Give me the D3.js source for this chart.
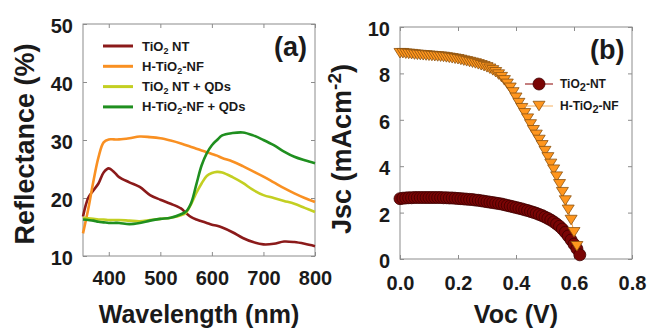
<!DOCTYPE html>
<html>
<head>
<meta charset="utf-8">
<script src="https://cdn.jsdelivr.net/npm/d3@7"></script>
<style>
  html, body { margin: 0; padding: 0; background: #fff; }
  svg { display: block; font-family: "Liberation Sans", Arial, sans-serif; }
</style>
</head>
<body>
<svg id="chart" width="647" height="330"></svg>
<script>
// ---------- Panel (a): reflectance spectra ----------
const wavelengths = [350, 360, 370, 380, 390, 400, 410, 420, 440, 460, 480, 500, 520, 540, 550, 560, 570, 580, 590, 600, 610, 620, 640, 660, 680, 700, 720, 740, 760, 780, 800];
const tio2NT = [16.8, 20.0, 21.3, 22.5, 24.4, 25.1, 24.5, 23.6, 22.7, 21.9, 20.5, 19.7, 19.0, 18.2, 17.4, 16.7, 16.3, 16.0, 15.7, 15.4, 15.2, 14.9, 14.1, 13.1, 12.4, 12.0, 12.1, 12.5, 12.4, 12.1, 11.7];
const hTio2NF = [13.9, 18.0, 22.8, 27.0, 29.6, 30.1, 30.1, 30.1, 30.3, 30.6, 30.5, 30.3, 29.9, 29.4, 29.1, 28.8, 28.5, 28.2, 27.9, 27.6, 27.3, 26.9, 26.3, 25.5, 24.6, 23.7, 22.7, 21.7, 20.8, 20.0, 19.3];
const tio2NTQD = [16.6, 16.5, 16.4, 16.3, 16.3, 16.2, 16.2, 16.2, 16.1, 16.0, 16.2, 16.4, 16.6, 17.0, 17.5, 19.0, 20.9, 22.5, 23.8, 24.3, 24.5, 24.4, 23.6, 22.6, 21.4, 20.5, 20.0, 19.5, 19.0, 18.3, 17.6];
const hTio2NFQD = [16.3, 16.2, 16.1, 15.9, 15.8, 15.7, 15.7, 15.7, 15.5, 15.7, 16.1, 16.4, 16.6, 17.2, 17.7, 19.2, 22.4, 25.6, 27.7, 29.1, 30.0, 30.8, 31.2, 31.3, 30.8, 30.0, 29.1, 28.0, 27.1, 26.5, 26.0];
const seriesNamesA = ["TiO2 NT", "H-TiO2-NF", "TiO2 NT + QDs", "H-TiO2-NF + QDs"];
const xTicksA = [400, 500, 600, 700, 800];
const yTicksA = [10, 20, 30, 40, 50];

// ---------- Panel (b): J-V curves ----------
const voltNT = [0.00,0.01,0.02,0.03,0.04,0.05,0.06,0.07,0.08,0.09,0.10,0.11,0.12,0.13,0.14,0.15,0.16,0.17,0.18,0.19,0.20,0.21,0.22,0.23,0.24,0.25,0.26,0.27,0.28,0.29,0.30,0.31,0.32,0.33,0.34,0.35,0.36,0.37,0.38,0.39,0.40,0.41,0.42,0.43,0.44,0.45,0.46,0.47,0.48,0.49,0.50,0.51,0.52,0.53,0.54,0.55,0.56,0.57,0.58,0.59,0.60,0.61,0.62];
const jscNT = [2.60,2.62,2.63,2.64,2.64,2.65,2.65,2.65,2.65,2.65,2.65,2.65,2.65,2.65,2.65,2.64,2.64,2.63,2.63,2.62,2.61,2.60,2.59,2.58,2.57,2.56,2.54,2.53,2.51,2.49,2.47,2.45,2.43,2.41,2.39,2.37,2.34,2.31,2.28,2.25,2.22,2.19,2.16,2.12,2.09,2.05,2.01,1.97,1.92,1.87,1.81,1.75,1.68,1.60,1.51,1.41,1.29,1.15,0.99,0.82,0.64,0.44,0.18];
const voltNF = [0.00,0.01,0.02,0.03,0.04,0.05,0.06,0.07,0.08,0.09,0.10,0.11,0.12,0.13,0.14,0.15,0.16,0.17,0.18,0.19,0.20,0.21,0.22,0.23,0.24,0.25,0.26,0.27,0.28,0.29,0.30,0.31,0.32,0.33,0.34,0.35,0.36,0.37,0.38,0.39,0.40,0.41,0.42,0.43,0.44,0.45,0.46,0.47,0.48,0.49,0.50,0.51,0.52,0.53,0.54,0.55,0.56,0.57,0.58,0.59,0.60,0.61];
const jscNF = [8.87,8.87,8.85,8.84,8.83,8.81,8.80,8.79,8.78,8.77,8.76,8.75,8.74,8.73,8.72,8.71,8.69,8.67,8.65,8.63,8.61,8.58,8.55,8.52,8.49,8.46,8.43,8.39,8.35,8.31,8.26,8.20,8.13,8.05,7.95,7.84,7.70,7.55,7.38,7.18,6.95,6.72,6.50,6.28,6.05,5.80,5.55,5.35,5.13,4.90,4.65,4.38,4.10,3.85,3.55,3.22,2.88,2.52,2.12,1.68,1.15,0.55];
const seriesNamesB = ["TiO2-NT", "H-TiO2-NF"];
const xTicksB = [0, 0.2, 0.4, 0.6, 0.8];
const yTicksB = [0, 2, 4, 6, 8, 10];

const svg = d3.select("#chart");
const FONT = "'Liberation Sans', Arial, sans-serif";
const BOX = "#8c8c8c";
const TXT = "#1a1a1a";

// helper: text with subscript "2"
function subText(sel, str, subSize, shift) {
  const parts = str.split("2");
  parts.forEach((p, i) => {
    if (i > 0) {
      sel.append("tspan").attr("font-size", subSize).attr("dy", shift).text("2");
      sel.append("tspan").attr("dy", -shift).text(p);
    } else {
      sel.append("tspan").text(p);
    }
  });
}

function frame(g, x, y, xTicks, yTicks, xFmt, xPad) {
  const [x0, x1] = x.range(), [y0, y1] = y.range();
  g.append("rect").attr("x", x0).attr("y", y1).attr("width", x1 - x0).attr("height", y0 - y1)
    .attr("fill", "none").attr("stroke", BOX).attr("stroke-width", 1);
  const ax = [
    g.append("g").attr("transform", `translate(0,${y0})`).call(d3.axisBottom(x).tickValues(xTicks).tickSizeInner(-4).tickSizeOuter(0).tickPadding(xPad).tickFormat(xFmt)),
    g.append("g").attr("transform", `translate(0,${y1})`).call(d3.axisTop(x).tickValues(xTicks).tickSizeInner(-4).tickSizeOuter(0).tickFormat("")),
    g.append("g").attr("transform", `translate(${x0},0)`).call(d3.axisLeft(y).tickValues(yTicks).tickSizeInner(-4).tickSizeOuter(0).tickPadding(10)),
    g.append("g").attr("transform", `translate(${x1},0)`).call(d3.axisRight(y).tickValues(yTicks).tickSizeInner(-4).tickSizeOuter(0).tickFormat(""))
  ];
  ax.forEach(a => {
    a.select(".domain").remove();
    a.selectAll(".tick line").attr("stroke", BOX);
    a.selectAll("text").attr("font-size", 20).attr("font-weight", "bold").attr("font-family", FONT).attr("fill", TXT);
  });
  ax[2].selectAll("text").attr("dy", "0.42em");
}

// ===== Panel (a) =====
const xA = d3.scaleLinear().domain([350, 800]).range([83, 315]);
const yA = d3.scaleLinear().domain([10, 50]).range([256, 24]);
const gA = svg.append("g");
frame(gA, xA, yA, xTicksA, yTicksA, d3.format("d"), 15);

const colorsA = ["#8b1a1a", "#f99022", "#c3cf22", "#1f8f1f"];
const dataA = [tio2NT, hTio2NF, tio2NTQD, hTio2NFQD];
const lineA = d3.line().x((d, i) => xA(wavelengths[i])).y(d => yA(d)).curve(d3.curveCatmullRom.alpha(0.5));
[0, 1, 2, 3].forEach(k => {
  gA.append("path").datum(dataA[k]).attr("d", lineA)
    .attr("fill", "none").attr("stroke", colorsA[k]).attr("stroke-width", 2.6).attr("stroke-linejoin", "round");
});

// legend (a)
const legA = gA.append("g");
seriesNamesA.forEach((name, i) => {
  const ly = 46 + i * 20.3;
  legA.append("line").attr("x1", 103).attr("x2", 133).attr("y1", ly).attr("y2", ly)
    .attr("stroke", colorsA[i]).attr("stroke-width", 3);
  const t = legA.append("text").attr("x", 142).attr("y", ly + 4.5)
    .attr("font-size", 13).attr("font-weight", "bold").attr("font-family", FONT).attr("fill", TXT);
  subText(t, name, 9, 3);
});
gA.append("text").attr("x", 274).attr("y", 56).attr("font-size", 27).attr("font-weight", "bold")
  .attr("font-family", FONT).attr("fill", TXT).text("(a)");

// axis titles (a)
svg.append("text").attr("x", 199).attr("y", 323).attr("text-anchor", "middle")
  .attr("font-size", 25).attr("font-weight", "bold").attr("font-family", FONT).attr("fill", TXT)
  .text("Wavelength (nm)");
svg.append("text").attr("transform", "translate(34,144) rotate(-90)").attr("text-anchor", "middle")
  .attr("font-size", 27).attr("font-weight", "bold").attr("font-family", FONT).attr("fill", TXT)
  .text("Reflectance (%)");

// ===== Panel (b) =====
const xB = d3.scaleLinear().domain([0, 0.8]).range([400, 632]);
const yB = d3.scaleLinear().domain([0, 10]).range([259, 27]);
const gB = svg.append("g");
frame(gB, xB, yB, xTicksB, yTicksB, d3.format(".1f"), 17);

const circFill = "#7a0505", circStroke = "#3d0000";
const triFill = "#ff961e", triStroke = "#8a5210";
const triPath = (w, h) => `M${-w/2},${-h/2}L${w/2},${-h/2}L0,${h/2}Z`;

const lineNT = d3.line().x((d, i) => xB(voltNT[i])).y(d => yB(d));
const lineNF = d3.line().x((d, i) => xB(voltNF[i])).y(d => yB(d));
gB.append("path").datum(jscNT).attr("d", lineNT).attr("fill", "none").attr("stroke", "#8b0000").attr("stroke-width", 1);
gB.append("path").datum(jscNF).attr("d", lineNF).attr("fill", "none").attr("stroke", "#f5a040").attr("stroke-width", 1);

gB.append("g").selectAll("circle").data(jscNT).join("circle")
  .attr("cx", (d, i) => xB(voltNT[i])).attr("cy", d => yB(d)).attr("r", 6)
  .attr("fill", circFill).attr("stroke", circStroke).attr("stroke-width", 0.8);
gB.append("g").selectAll("path").data(jscNF).join("path")
  .attr("transform", (d, i) => `translate(${xB(voltNF[i])},${yB(d)})`)
  .attr("d", triPath(12, 9.5))
  .attr("fill", triFill).attr("stroke", triStroke).attr("stroke-width", 0.8);

// legend (b)
const legB = gB.append("g");
legB.append("line").attr("x1", 525).attr("x2", 553).attr("y1", 84).attr("y2", 84).attr("stroke", "#8b0000").attr("stroke-width", 1);
legB.append("circle").attr("cx", 539).attr("cy", 84).attr("r", 6).attr("fill", circFill).attr("stroke", circStroke).attr("stroke-width", 0.8);
legB.append("line").attr("x1", 525).attr("x2", 553).attr("y1", 106).attr("y2", 106).attr("stroke", "#f5b060").attr("stroke-width", 1);
legB.append("path").attr("transform", "translate(539,106)").attr("d", triPath(12, 9.5))
  .attr("fill", triFill).attr("stroke", triStroke).attr("stroke-width", 0.8);
seriesNamesB.forEach((name, i) => {
  const t = legB.append("text").attr("x", 560).attr("y", 87.5 + i * 22)
    .attr("font-size", 12).attr("font-weight", "bold").attr("font-family", FONT).attr("fill", TXT);
  subText(t, name, 11, 3);
});
gB.append("text").attr("x", 590).attr("y", 59).attr("font-size", 27).attr("font-weight", "bold")
  .attr("font-family", FONT).attr("fill", TXT).text("(b)");

// axis titles (b)
svg.append("text").attr("x", 516).attr("y", 323).attr("text-anchor", "middle")
  .attr("font-size", 25).attr("font-weight", "bold").attr("font-family", FONT).attr("fill", TXT)
  .text("Voc (V)");
const jl = svg.append("text").attr("transform", "translate(351,149) rotate(-90)").attr("text-anchor", "middle")
  .attr("font-size", 27).attr("font-weight", "bold").attr("font-family", FONT).attr("fill", TXT);
jl.append("tspan").text("Jsc (mAcm");
jl.append("tspan").attr("font-size", 19).attr("dy", -10).text("-2");
jl.append("tspan").attr("dy", 10).text(")");
</script>
</body>
</html>
